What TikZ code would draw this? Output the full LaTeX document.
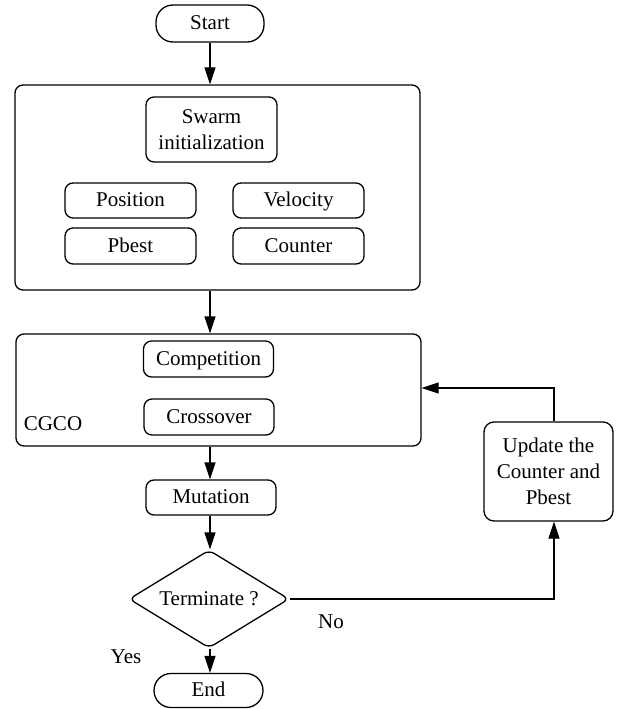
\documentclass[tikz,border=0pt]{standalone}
\usepackage{fontspec}
\setmainfont{Liberation Serif}
\usetikzlibrary{arrows.meta,shapes.geometric}
\begin{document}
\begin{tikzpicture}[x=1pt,y=-1pt,
  every node/.style={font=\fontsize{21}{26}\selectfont, align=center, inner sep=0pt},
  oneline/.style={text height=14pt, text depth=2pt},
  box/.style={draw, line width=1.3pt, rounded corners=8pt},
  pill/.style={draw, line width=1.3pt, rounded corners=17pt, oneline},
  arr/.style={line width=1.3pt, -{Triangle[length=17pt,width=11pt]}},
  ln/.style={line width=1.3pt}]
\useasboundingbox (0,0) rectangle (617,709);
\node[pill, minimum width=108pt, minimum height=37pt] (start) at (210,23.5) {Start};
\node[box, minimum width=405pt, minimum height=205pt] (box1) at (217.5,187.5) {};
\node[box, minimum width=131pt, minimum height=65pt] (swarm) at (211.5,129.5) {Swarm\\initialization};
\node[box, oneline, minimum width=131pt, minimum height=35pt] (position) at (130.5,200.5) {Position};
\node[box, oneline, minimum width=131pt, minimum height=35pt] (velocity) at (298.5,200.5) {Velocity};
\node[box, oneline, minimum width=131pt, minimum height=36pt] (pbest) at (130.5,246) {Pbest};
\node[box, oneline, minimum width=131pt, minimum height=36pt] (counter) at (298.5,246) {Counter};
\node[box, minimum width=405pt, minimum height=112pt] (box2) at (218.5,390) {};
\node[box, oneline, minimum width=130pt, minimum height=36pt] (comp) at (208.5,359) {Competition};
\node[box, oneline, minimum width=130pt, minimum height=36pt] (cross) at (209,417) {Crossover};
\node[oneline] (cgco) at (53,424) {CGCO};
\node[box, oneline, minimum width=130pt, minimum height=35pt] (mut) at (211,497.5) {Mutation};
\node[draw, oneline, line width=1.3pt, diamond, aspect=1.63, minimum width=160pt, minimum height=98pt, rounded corners=6pt] (dia) at (209,599) {Terminate ?};
\node[pill, minimum width=109pt, minimum height=34pt] (end) at (208.5,690.5) {End};
\node[box, rounded corners=10pt, minimum width=129pt, minimum height=99pt] (upd) at (548.5,471.5) {Update the\\Counter and\\Pbest};
\node[oneline] (yes) at (126,657) {Yes};
\node[oneline] (no) at (331,622) {No};
\coordinate (lx) at (554,388);
\coordinate (cx) at (210,0);
\draw[arr] (start.south -| cx) -- (box1.north -| cx);
\draw[arr] (box1.south -| cx) -- (box2.north -| cx);
\draw[arr] (box2.south -| cx) -- (mut.north -| cx);
\draw[arr] (mut.south -| cx) -- (dia.north -| cx);
\draw[arr] (dia.south -| cx) -- (end.north -| cx);
\draw[arr] (dia.east) -| (upd.south -| lx);
\draw[arr] (upd.north -| lx) -- (lx) -- (box2.east |- lx);
\end{tikzpicture}
\end{document}
